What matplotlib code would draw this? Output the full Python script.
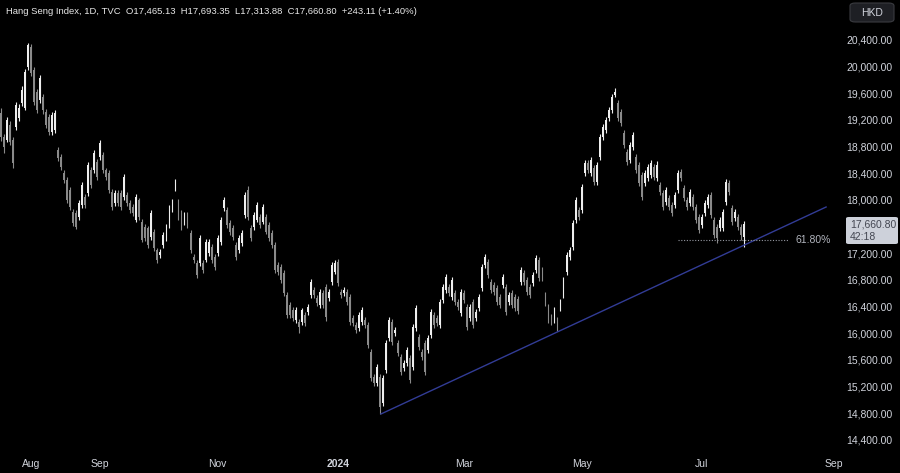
import matplotlib
matplotlib.use('Agg')
import matplotlib.pyplot as plt
from matplotlib.patches import FancyBboxPatch

plt.rcParams['font.family'] = ['Liberation Sans', 'DejaVu Sans']

# daily candles, first visible bar = index 0 (mid Jul 2023) .. last = Jul 2024
opens = [
    19320, 18960, 18915, 19140, 18915, 19110, 19245, 19470, 19395, 20010,
    20310, 19965, 19635, 19515, 19560, 19335, 19260, 19035, 19065, 18765,
    18660, 18420, 18315, 18165, 17835, 17820, 17760, 17940, 18060, 18120,
    18465, 18465, 18585, 18660, 18690, 18465, 18420, 18135, 17970, 18120,
    18120, 18060, 18090, 17970, 17910, 17715, 18015, 17685, 17610, 17595,
    17460, 17535, 17265, 17190, 17340, 17445, 17640, 17865, 18195, 17985,
    17820, 17685, 17790, 17520, 17160, 17070, 17070, 17070, 17115, 17220,
    17310, 17160, 17220, 17385, 17895, 17865, 17670, 17595, 17340, 17265,
    17370, 17790, 18165, 17595, 17610, 17715, 17760, 17685, 17760, 17640,
    17520, 17340, 17040, 17010, 16920, 16590, 16440, 16365, 16215, 16185,
    16185, 16290, 16335, 16590, 16665, 16545, 16440, 16620, 16710, 16545,
    16785, 16935, 17085, 16635, 16620, 16635, 16560, 16245, 16140, 16095,
    16185, 16215, 16140, 15735, 15360, 15270, 15360, 14970, 15465, 15945,
    16185, 16020, 15870, 15660, 15495, 15570, 15645, 15510, 16095, 15960,
    15735, 15870, 15765, 15990, 16290, 16245, 16140, 16515, 16665, 16710,
    16560, 16620, 16485, 16320, 16620, 16410, 16245, 16485, 16245, 16395,
    16695, 17040, 17085, 16785, 16740, 16695, 16560, 16740, 16710, 16485,
    16620, 16560, 16530, 16785, 16920, 16815, 16710, 16770, 16965, 17115,
    16965, 16590, 16410, 16260, 16215, 16215, 16395, 16590, 16935, 17160,
    17310, 17715, 17865, 17865, 18420, 18570, 18420, 18495, 18285, 18660,
    18960, 19065, 19245, 19365, 19590, 19470, 19335, 19020, 18735, 18615,
    18810, 18660, 18540, 18390, 18270, 18345, 18390, 18510, 18345, 18240,
    18120, 17985, 18045, 17940, 17940, 18165, 18435, 18195, 18015, 17970,
    18060, 17910, 17760, 17640, 17820, 17940, 18090, 17715, 17610, 17595,
    17595, 17985, 18270, 17895, 17745, 17760, 17610, 17465.13,
]
closes = [
    18960, 18810, 19215, 18885, 18570, 19440, 19395, 19665, 19935, 20340,
    19920, 19485, 19365, 19845, 19365, 19140, 19035, 19290, 19320, 18645,
    18510, 18315, 18015, 17910, 17670, 17610, 17970, 18240, 17940, 18540,
    18240, 18720, 18360, 18870, 18465, 18360, 18165, 17910, 18120, 17970,
    17910, 18360, 17970, 17865, 17820, 18060, 17760, 17415, 17445, 17340,
    17820, 17295, 17115, 17235, 17490, 17610, 17895, 17985, 18270, 17760,
    17610, 17790, 17640, 17265, 17115, 16890, 17445, 16965, 17385, 17385,
    17115, 17010, 17445, 17715, 18015, 17640, 17535, 17460, 17160, 17445,
    17520, 18090, 17760, 17445, 17790, 17940, 17640, 17910, 17535, 17445,
    17340, 16965, 16935, 16815, 16620, 16290, 16290, 16245, 16365, 16110,
    16365, 16170, 16410, 16785, 16590, 16470, 16635, 16440, 16260, 16635,
    17040, 17070, 16770, 16590, 16665, 16485, 16185, 16170, 16065, 16290,
    16365, 16140, 15840, 15345, 15270, 15510, 14910, 15345, 15870, 16215,
    15885, 16065, 15720, 15435, 15570, 15765, 15315, 16110, 16395, 15810,
    15660, 15435, 15945, 16335, 16140, 16170, 16485, 16710, 16860, 16620,
    16815, 16485, 16410, 16635, 16515, 16110, 16410, 16140, 16335, 16560,
    17010, 17160, 16890, 16665, 16635, 16485, 16440, 16860, 16335, 16590,
    16440, 16395, 16350, 16965, 16785, 16635, 16590, 16890, 17145, 16845,
    16845, 16470, 16215, 16185, 16365, 16065, 16485, 16815, 17190, 17265,
    17670, 18015, 17760, 18210, 18570, 18465, 18615, 18285, 18540, 18960,
    19110, 19215, 19365, 19560, 19635, 19245, 19170, 18840, 18585, 18840,
    18990, 18465, 18270, 18060, 18420, 18510, 18570, 18360, 18540, 18135,
    17910, 18165, 17910, 17820, 18090, 18420, 18345, 18045, 17910, 18135,
    17910, 17715, 17565, 17760, 17970, 18060, 17790, 17490, 17445, 17715,
    17835, 18285, 18135, 17685, 17835, 17610, 17490, 17660.80,
]
highs = [
    19400, 19000, 19260, 19200, 18960, 19480, 19450, 19720, 19980, 20370,
    20360, 20010, 19680, 19890, 19600, 19380, 19300, 19330, 19360, 18810,
    18700, 18470, 18360, 18210, 17880, 17860, 18010, 18290, 18100, 18580,
    18510, 18760, 18630, 18920, 18730, 18500, 18460, 18180, 18160, 18170,
    18160, 18400, 18130, 18010, 17950, 18100, 18050, 17730, 17650, 17630,
    17860, 17580, 17300, 17280, 17530, 17650, 17940, 18030, 18330, 18030,
    17860, 17830, 17830, 17560, 17210, 17110, 17490, 17110, 17430, 17430,
    17350, 17200, 17490, 17760, 18060, 17910, 17710, 17640, 17380, 17490,
    17560, 18140, 18220, 17640, 17830, 17990, 17800, 17950, 17800, 17680,
    17560, 17380, 17080, 17050, 16960, 16630, 16480, 16410, 16410, 16230,
    16400, 16330, 16450, 16830, 16710, 16590, 16680, 16660, 16760, 16680,
    17080, 17110, 17130, 16680, 16710, 16680, 16600, 16290, 16180, 16330,
    16410, 16260, 16180, 15780, 15400, 15550, 15400, 15390, 15910, 16260,
    16230, 16110, 15910, 15700, 15610, 15810, 15690, 16150, 16440, 16000,
    15780, 15910, 15990, 16380, 16330, 16290, 16530, 16750, 16900, 16750,
    16860, 16660, 16530, 16680, 16660, 16450, 16450, 16530, 16380, 16600,
    17050, 17200, 17130, 16830, 16780, 16740, 16600, 16900, 16750, 16630,
    16660, 16600, 16570, 17010, 16960, 16860, 16750, 16930, 17190, 17160,
    17010, 16630, 16450, 16300, 16410, 16260, 16530, 16860, 17240, 17310,
    17720, 18060, 17910, 18260, 18620, 18610, 18660, 18540, 18580, 19000,
    19160, 19260, 19410, 19610, 19695, 19520, 19380, 19060, 18780, 18880,
    19040, 18700, 18580, 18430, 18460, 18560, 18610, 18550, 18600, 18280,
    18160, 18210, 18090, 17980, 18130, 18460, 18480, 18240, 18060, 18180,
    18100, 17950, 17800, 17800, 18010, 18100, 18130, 17760, 17650, 17760,
    17880, 18330, 18310, 17940, 17880, 17800, 17650, 17693.35,
]
lows = [
    18900, 18720, 18880, 18840, 18500, 19060, 19200, 19430, 19360, 19960,
    19880, 19440, 19320, 19470, 19310, 19100, 18990, 18990, 19020, 18600,
    18470, 18270, 17970, 17860, 17620, 17580, 17720, 17900, 17900, 18080,
    18200, 18420, 18320, 18620, 18420, 18320, 18120, 17870, 17930, 17930,
    17870, 18020, 17930, 17820, 17770, 17680, 17720, 17380, 17400, 17300,
    17420, 17250, 17070, 17150, 17300, 17400, 17600, 17830, 18150, 17720,
    17570, 17640, 17600, 17220, 17070, 16840, 17030, 16920, 17080, 17180,
    17070, 16960, 17180, 17340, 17850, 17600, 17490, 17420, 17120, 17220,
    17330, 17750, 17720, 17400, 17570, 17680, 17600, 17650, 17500, 17400,
    17300, 16920, 16890, 16770, 16580, 16250, 16240, 16200, 16170, 16020,
    16140, 16120, 16290, 16550, 16550, 16430, 16400, 16400, 16200, 16500,
    16740, 16900, 16730, 16550, 16580, 16440, 16140, 16130, 16020, 16050,
    16140, 16100, 15800, 15300, 15220, 15230, 14805, 14930, 15420, 15900,
    15840, 15980, 15680, 15390, 15450, 15530, 15270, 15470, 16050, 15770,
    15620, 15390, 15720, 15950, 16100, 16130, 16100, 16470, 16620, 16580,
    16520, 16440, 16370, 16280, 16470, 16070, 16200, 16100, 16200, 16350,
    16650, 17000, 16850, 16620, 16590, 16440, 16400, 16700, 16290, 16440,
    16400, 16350, 16310, 16740, 16740, 16590, 16550, 16730, 16920, 16800,
    16800, 16430, 16170, 16140, 16170, 16050, 16350, 16550, 16890, 17120,
    17270, 17670, 17720, 17820, 18380, 18420, 18380, 18240, 18240, 18620,
    18920, 19020, 19200, 19320, 19560, 19200, 19130, 18800, 18540, 18570,
    18770, 18420, 18230, 18020, 18230, 18300, 18350, 18320, 18300, 18090,
    17870, 17940, 17870, 17780, 17900, 18120, 18300, 18000, 17870, 17930,
    17870, 17670, 17520, 17600, 17780, 17900, 17750, 17440, 17370, 17550,
    17550, 17940, 18090, 17640, 17700, 17570, 17410, 17313.88,
]

month_labels = ['Aug', 'Sep', 'Nov', '2024', 'Mar', 'May', 'Jul', 'Sep']
month_pos = [10, 33, 72, 112, 154, 193, 233, 277]
price_ticks = [20400, 20000, 19600, 19200, 18800, 18400, 18000,
               17200, 16800, 16400, 16000, 15600, 15200, 14800, 14400]

trend_x = [126.3, 274.3]
trend_y = [14805, 17910]
fib_level = 17415
fib_span = [225, 261.6]

title = ('Hang Seng Index, 1D, TVC  O17,465.13  H17,693.35  '
         'L17,313.88  C17,660.80  +243.11 (+1.40%)')

up_col = '#eeeeee'
down_col = '#8a8a8a'
txt_col = '#d1d4dc'

fig = plt.figure(figsize=(9, 4.73), dpi=100)
fig.patch.set_facecolor('black')
ax = fig.add_axes([0, 0, 1, 1])
ax.set_axis_off()
ax.set_xlim(-0.332, 298.87)
ax.set_ylim(13920, 21015)

n = len(closes)
idx = list(range(n))
cols = [up_col if c >= o else down_col for o, c in zip(opens, closes)]
ax.vlines(idx, lows, highs, colors=cols, linewidth=0.8, zorder=2)
bottoms = [min(o, c) for o, c in zip(opens, closes)]
heights = [max(abs(c - o), 20) for o, c in zip(opens, closes)]
ax.bar(idx, heights, bottom=bottoms, width=0.62, color=cols, linewidth=0, zorder=3)

# trendline and fib level
ax.plot(trend_x, trend_y, color='#323c96', linewidth=1.0, zorder=4)
ax.hlines(fib_level, fib_span[0], fib_span[1], colors='#9598a1',
          linestyles=(0, (1, 1.5)), linewidth=0.8, zorder=4)
ax.text(264, fib_level, '61.80%', color='#b2b5be', fontsize=7.5, va='center', ha='left')

# right price scale
ytr = ax.get_yaxis_transform()
for v in price_ticks:
    ax.text(0.992, v, f'{v:,.2f}', transform=ytr, color=txt_col,
            fontsize=7.5, ha='right', va='center')

# month labels
xtr = ax.get_xaxis_transform()
for lab, p in zip(month_labels, month_pos):
    ax.text(p, 9 / 473, lab, transform=xtr, color=txt_col, fontsize=7.5,
            ha='center', va='center',
            fontweight='bold' if lab == '2024' else 'normal')

fig.text(6 / 900, 1 - 12 / 473, title, color='#e8e8e8', fontsize=6.8,
         ha='left', va='center')

# last price box
box = FancyBboxPatch((846 / 900, 1 - 244 / 473), 52 / 900, 27 / 473,
                     boxstyle='round,pad=0,rounding_size=0.003',
                     transform=fig.transFigure, facecolor='#cdd1da',
                     edgecolor='none', zorder=5)
fig.patches.append(box)
fig.text(850 / 900, 1 - 224 / 473, f'{closes[-1]:,.2f}', color='#434651',
         fontsize=7.5, ha='left', va='center', zorder=6)
fig.text(850 / 900, 1 - 237 / 473, '42:18', color='#434651',
         fontsize=7.5, ha='left', va='center', zorder=6)

# currency button
hkd = FancyBboxPatch((850 / 900, 1 - 22 / 473), 44 / 900, 19 / 473,
                     boxstyle='round,pad=0,rounding_size=0.006',
                     transform=fig.transFigure, facecolor='#1e1f24',
                     edgecolor='#3a3b40', linewidth=0.8, zorder=5)
fig.patches.append(hkd)
fig.text(872 / 900, 1 - 12.5 / 473, 'HKD', color=txt_col, fontsize=7.5,
         ha='center', va='center', zorder=6)

fig.savefig('out.png', dpi=100, facecolor='black')
